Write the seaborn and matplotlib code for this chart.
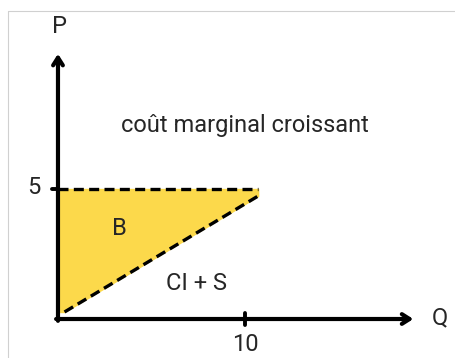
# surplus chart - marginal cost rising, price fixed at 5
import numpy as np
import pandas as pd
import matplotlib
matplotlib.use('Agg')
import matplotlib.pyplot as plt
import seaborn as sns
from matplotlib.lines import Line2D

# data
q_cost = [0.35, 10.7]      # marginal cost line, quantity
p_cost = [0.27, 4.73]      # marginal cost line, price
q_price = [0.0, 10.7]      # price line
p_price = [5.0, 5.0]
q_ticks = [10]
p_ticks = [5]
q_axis_end = 19.0
p_axis_end = 10.2

sns.set_style('white')
plt.rcParams['font.family'] = ['Roboto', 'DejaVu Sans']

fig = plt.figure(figsize=(4.56, 3.58), dpi=100)
ax = fig.add_axes([0, 0, 1, 1])
ax.set_xlim(-3.10, 21.28)
ax.set_ylim(-1.5, 12.27)
ax.axis('off')

# yellow area between price and cost
qq = np.array([0.0, q_cost[0], q_cost[1]])
lower = np.interp(qq, q_cost, p_cost)
lower[0] = p_cost[0]
ax.fill_between(qq, lower, p_price[0], color='#FCD94B', zorder=1)

# dashed lines
df_cost = pd.DataFrame({'Q': q_cost, 'P': p_cost})
df_price = pd.DataFrame({'Q': q_price, 'P': p_price})
sns.lineplot(data=df_cost, x='Q', y='P', ax=ax, color='black', lw=2.4,
             linestyle=(0, (3, 1.6)), zorder=3)
sns.lineplot(data=df_price, x='Q', y='P', ax=ax, color='black', lw=2.4,
             linestyle=(0, (3, 1.6)), zorder=3)

# axes with arrow heads
arrow = dict(arrowstyle='->,head_length=0.55,head_width=0.35', lw=3.0, color='black',
             shrinkA=0, shrinkB=0)
ax.annotate('', xy=(q_axis_end, 0), xytext=(-0.1, 0), arrowprops=arrow, zorder=4)
ax.annotate('', xy=(0, p_axis_end), xytext=(0, -0.07), arrowprops=arrow, zorder=4)

# ticks
for q in q_ticks:
    ax.plot([q, q], [-0.22, 0.22], color='black', lw=2.8, zorder=4)
    ax.text(q, -0.55, str(q), ha='center', va='top', fontsize=17)
for p in p_ticks:
    ax.plot([-0.3, 0], [p, p], color='black', lw=2.8, zorder=4)
    ax.text(-1.3, p + 0.05, str(p), ha='center', va='center', fontsize=17)

# labels
ax.text(0.1, 11.25, 'P', ha='center', va='center', fontsize=17)
ax.text(20.4, 0.05, 'Q', ha='center', va='center', fontsize=17)
ax.text(10.0, 7.45, 'coût marginal croissant', ha='center', va='center', fontsize=17)
ax.text(3.3, 3.5, 'B', ha='center', va='center', fontsize=17)
ax.text(7.4, 1.38, 'CI + S', ha='center', va='center', fontsize=17)

# thin frame of the picture
fig.add_artist(Line2D([8 / 456, 1], [1 - 11 / 358, 1 - 11 / 358], color='#d0d0d0', lw=0.8))
fig.add_artist(Line2D([8 / 456, 8 / 456], [0, 1 - 11 / 358], color='#d0d0d0', lw=0.8))

plt.savefig('out.png', dpi=100)
